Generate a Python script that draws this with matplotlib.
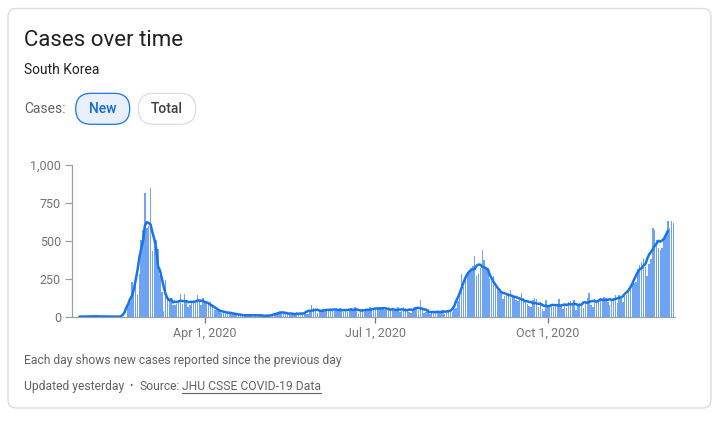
import numpy as np
import pandas as pd
import matplotlib
matplotlib.use("Agg")
import matplotlib.pyplot as plt
from matplotlib.patches import FancyBboxPatch

plt.rcParams['font.family'] = ['Roboto', 'DejaVu Sans']

# ---- data: daily new cases, South Korea (Jan 22 .. Dec 7, 2020) ----
start_date = "2020-01-22"
jan = [1, 0, 1, 0, 1, 1, 0, 0, 0, 7]
feb = [1, 3, 0, 1, 3, 4, 1, 0, 1, 2, 1, 0, 0, 0, 0, 1, 1, 1, 0,
       73, 100, 229, 169, 231, 144, 284, 505, 571, 813]
mar = [586, 599, 851, 435, 467, 505, 448, 273, 164, 35,
       242, 114, 110, 107, 76, 74, 84, 93, 152, 87,
       147, 98, 64, 76, 100, 104, 91, 146, 105, 78, 125]
apr = [101, 89, 86, 94, 81, 47, 47, 53, 39, 27,
       30, 32, 25, 27, 27, 22, 22, 18, 8, 13,
       9, 11, 8, 6, 10, 10, 10, 14, 9, 4]
may = [9, 6, 13, 8, 3, 2, 4, 12, 18, 34,
       35, 27, 26, 29, 27, 19, 13, 15, 13, 32,
       12, 20, 23, 25, 16, 19, 40, 79, 58, 39, 27]
jun = [35, 38, 49, 39, 39, 51, 57, 38, 38, 50,
       45, 56, 48, 34, 37, 34, 43, 59, 49, 67,
       48, 17, 46, 51, 28, 39, 51, 62, 42, 43]
jul = [51, 54, 63, 63, 61, 46, 44, 63, 50, 45,
       35, 44, 62, 33, 39, 61, 60, 39, 34, 26,
       45, 63, 59, 41, 113, 58, 25, 28, 48, 18, 36]
aug = [31, 30, 23, 34, 33, 43, 20, 43, 36, 28,
       34, 54, 56, 103, 166, 279, 197, 246, 297, 288,
       324, 332, 397, 266, 280, 320, 441, 371, 323, 299, 248]
sep = [235, 267, 195, 198, 168, 167, 119, 136, 156, 155,
       176, 136, 121, 109, 106, 113, 153, 126, 110, 82,
       70, 61, 110, 125, 114, 61, 95, 50, 38, 113]
oct_ = [77, 63, 75, 64, 73, 75, 114, 69, 54, 72,
        58, 97, 102, 84, 110, 47, 73, 91, 76, 58,
        89, 121, 155, 77, 61, 119, 88, 103, 125, 114, 127]
nov = [124, 97, 75, 118, 125, 145, 89, 143, 126, 100,
       146, 143, 191, 205, 208, 223, 230, 313, 343, 363,
       386, 330, 271, 349, 382, 583, 569, 504, 450, 438]
dec = [451, 511, 540, 629, 583, 631, 615]

y_ticks = [0, 250, 500, 750, 1000]
y_labels = ["0", "250", "500", "750", "1,000"]
x_ticks = ["2020-04-01", "2020-07-01", "2020-10-01"]
x_labels = ["Apr 1, 2020", "Jul 1, 2020", "Oct 1, 2020"]

values = jan + feb + mar + apr + may + jun + jul + aug + sep + oct_ + nov + dec
dates = pd.date_range(start_date, periods=len(values), freq="D")
series = pd.Series(values, index=dates, dtype=float)
avg = series.rolling(7, center=True).mean()

# ---- figure ----
W, H = 720, 421
fig = plt.figure(figsize=(W / 100, H / 100), dpi=100)
fig.patch.set_facecolor("white")

bg = fig.add_axes([0, 0, 1, 1])
bg.set_xlim(0, W)
bg.set_ylim(H, 0)
bg.axis("off")

bg.add_patch(FancyBboxPatch((8, 8.5), 703, 399.5,
                            boxstyle="round,pad=0,rounding_size=8",
                            fc="white", ec="#dadce0", lw=1.0))

bg.text(24, 46, "Cases over time", fontsize=16, color="#202124", va="baseline")
bg.text(24, 73.5, "South Korea", fontsize=10, color="#202124", va="baseline")
bg.text(24, 113.3, "Cases:", fontsize=10, color="#5f6368", va="baseline")

bg.add_patch(FancyBboxPatch((75.7, 93.3), 54, 31,
                            boxstyle="round,pad=0,rounding_size=15.5",
                            fc="#e8f0fe", ec="#1a73e8", lw=0.9))
bg.text(102.7, 113.3, "New", fontsize=10, color="#1967d2", va="baseline",
        ha="center", fontweight="medium")
bg.add_patch(FancyBboxPatch((138.3, 93.3), 57.4, 31,
                            boxstyle="round,pad=0,rounding_size=15.5",
                            fc="white", ec="#dadce0", lw=0.9))
bg.text(167, 113.3, "Total", fontsize=10, color="#3c4043", va="baseline",
        ha="center", fontweight="medium")

fs = 8.7
bg.text(24, 364.3, "Each day shows new cases reported since the previous day",
        fontsize=fs, color="#5f6368", va="baseline")
bg.text(24, 390, "Updated yesterday", fontsize=fs, color="#5f6368", va="baseline")
bg.text(131.5, 388.5, "\u2022", fontsize=7, color="#5f6368", va="baseline", ha="center")
bg.text(139, 390, "Source:", fontsize=fs, color="#5f6368", va="baseline")
link = bg.text(182, 390, "JHU CSSE COVID-19 Data", fontsize=fs,
               color="#5f6368", va="baseline")
fig.canvas.draw()
bb = link.get_window_extent(renderer=fig.canvas.get_renderer())
x_end = bb.x1  # pixels (bg axes maps 1:1 to pixels in x)
bg.plot([182, x_end], [392.5, 392.5], color="#5f6368", lw=0.8)

# ---- chart ----
ax = fig.add_axes([72 / W, 1 - 316.7 / H, (675 - 72) / W, (316.7 - 165) / H])
ax.set_facecolor("none")
ax.bar(series.index, series.values, width=0.75, color="#6fa3f4",
       linewidth=0, zorder=2)
ax.plot(avg.index, avg.values, color="#1a73e8", lw=1.8, zorder=3,
        solid_capstyle="round")

ax.set_ylim(0, 1000)
ax.set_xlim(dates[0] - pd.Timedelta(hours=22), dates[-1] + pd.Timedelta(hours=20))
ax.set_yticks(y_ticks)
ax.set_yticklabels(y_labels)
ax.set_xticks(pd.to_datetime(x_ticks))
ax.set_xticklabels(x_labels)

for s in ["top", "right"]:
    ax.spines[s].set_visible(False)
for s in ["left", "bottom"]:
    ax.spines[s].set_color("#9aa0a6")
    ax.spines[s].set_linewidth(0.9)
ax.tick_params(axis="y", length=5, width=0.9, color="#9aa0a6",
               labelcolor="#70757a", labelsize=9, pad=3)
ax.tick_params(axis="x", length=4.5, width=0.9, color="#70757a",
               labelcolor="#70757a", labelsize=9, pad=3)

fig.savefig("out.png", dpi=100, facecolor="white")
